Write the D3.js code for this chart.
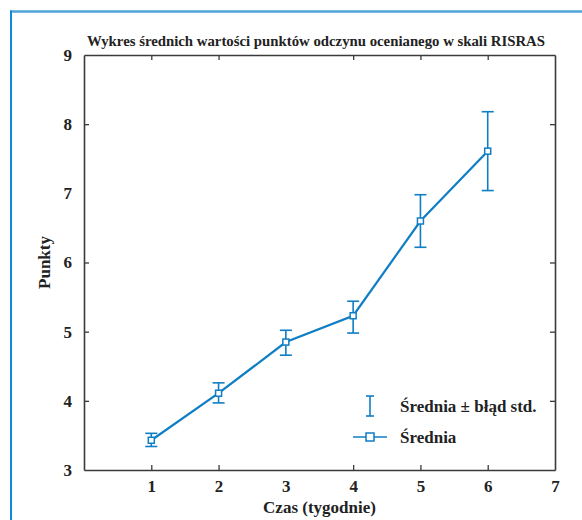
<!DOCTYPE html>
<html>
<head>
<meta charset="utf-8">
<script src="https://cdn.jsdelivr.net/npm/d3@7"></script>
<style>
  body { margin: 0; background: #fff; }
</style>
</head>
<body>
<div id="chart"></div>
<script>
// Data
const weeks = [1, 2, 3, 4, 5, 6];
const means = [3.43, 4.11, 4.85, 5.23, 6.60, 7.61];
const lowerBounds = [3.34, 3.97, 4.66, 4.98, 6.22, 7.04];
const upperBounds = [3.53, 4.26, 5.02, 5.44, 6.98, 8.18];
const xTicks = [1, 2, 3, 4, 5, 6, 7];
const yTicks = [3, 4, 5, 6, 7, 8, 9];
const legendLabels = ['Średnia ± błąd std.', 'Średnia'];

const chartTitle = 'Wykres średnich wartości punktów odczynu ocenianego w skali RISRAS';
const xLabel = 'Czas (tygodnie)';
const yLabel = 'Punkty';

const serif = 'Liberation Serif';

const imageWidth = 582;
const imageHeight = 520;
const margin = {
  top: 55, right: 27, bottom: 50, left: 84,
};
const width = imageWidth - margin.left - margin.right;
const height = imageHeight - margin.top - margin.bottom;
const blue = '#0f7ec4';
const axisColor = '#3a3a3a';

const x = d3.scaleLinear().domain([0, 7]).range([0, width]);
const y = d3.scaleLinear().domain([3, 9]).range([height, 0]);

const root = d3.select('#chart').append('svg')
  .attr('width', imageWidth)
  .attr('height', imageHeight);

// Outer frame lines (top and left)
root.append('line')
  .attr('x1', 10).attr('x2', imageWidth).attr('y1', 11.5).attr('y2', 11.5)
  .attr('stroke', '#4ea3da').attr('stroke-width', 2.5);
root.append('line')
  .attr('x1', 11).attr('x2', 11).attr('y1', 10.5).attr('y2', imageHeight)
  .attr('stroke', '#1089d6').attr('stroke-width', 2);

const svg = root.append('g')
  .attr('transform', `translate(${margin.left},${margin.top})`);

// Axes with inward ticks on all four sides
const tickLen = 5;
const fmt = d3.format('d');
const xAxisBottom = d3.axisBottom(x).tickValues(xTicks).tickFormat(fmt)
  .tickSizeInner(-tickLen).tickSizeOuter(0).tickPadding(10);
const xAxisTop = d3.axisTop(x).tickValues(xTicks).tickSizeInner(-tickLen).tickSizeOuter(0).tickFormat('');
const yAxisLeft = d3.axisLeft(y).tickValues(yTicks).tickFormat(fmt)
  .tickSizeInner(-tickLen).tickSizeOuter(0).tickPadding(10);
const yAxisRight = d3.axisRight(y).tickValues(yTicks).tickSizeInner(-tickLen).tickSizeOuter(0).tickFormat('');

const gx = svg.append('g').attr('transform', `translate(0,${height})`).call(xAxisBottom);
svg.append('g').call(xAxisTop);
const gy = svg.append('g').call(yAxisLeft);
svg.append('g').attr('transform', `translate(${width},0)`).call(yAxisRight);

svg.selectAll('.domain').attr('stroke', axisColor).attr('stroke-width', 1.6);
svg.selectAll('.tick line').attr('stroke', axisColor).attr('stroke-width', 1.3);
// hide ticks that sit on the box corners
svg.selectAll('.tick').filter((d) => d === 3 || d === 9 || d === 7).select('line').remove();

[gx, gy].forEach((g) => {
  g.attr('font-family', serif).attr('font-size', 17).attr('font-weight', 'bold');
  g.selectAll('text')
    .attr('font-family', serif)
    .attr('font-size', 17)
    .attr('font-weight', 'bold')
    .attr('fill', '#222');
});
gy.selectAll('text').attr('dx', '-2');

// Title and axis labels
root.append('text')
  .attr('x', 316).attr('y', 46)
  .attr('text-anchor', 'middle')
  .attr('font-family', serif)
  .attr('font-size', 15).attr('font-weight', 'bold')
  .attr('fill', '#222')
  .attr('textLength', 458).attr('lengthAdjust', 'spacingAndGlyphs')
  .text(chartTitle);

root.append('text')
  .attr('x', margin.left + width / 2).attr('y', 513)
  .attr('text-anchor', 'middle')
  .attr('font-family', serif)
  .attr('font-size', 17).attr('font-weight', 'bold')
  .attr('fill', '#222')
  .text(xLabel);

root.append('text')
  .attr('transform', `translate(50,${margin.top + height / 2}) rotate(-90)`)
  .attr('text-anchor', 'middle')
  .attr('font-family', serif)
  .attr('font-size', 17).attr('font-weight', 'bold')
  .attr('fill', '#222')
  .text(yLabel);

const points = weeks.map((w, i) => ({
  w, m: means[i], lo: lowerBounds[i], hi: upperBounds[i],
}));

// Error bars
const capHalf = 6;
const err = svg.selectAll('.err')
  .data(points)
  .enter().append('g')
  .attr('class', 'err')
  .attr('stroke', blue)
  .attr('stroke-width', 1.6);
err.append('line')
  .attr('x1', (d) => x(d.w)).attr('x2', (d) => x(d.w))
  .attr('y1', (d) => y(d.lo)).attr('y2', (d) => y(d.hi));
err.append('line')
  .attr('x1', (d) => x(d.w) - capHalf).attr('x2', (d) => x(d.w) + capHalf)
  .attr('y1', (d) => y(d.hi)).attr('y2', (d) => y(d.hi));
err.append('line')
  .attr('x1', (d) => x(d.w) - capHalf).attr('x2', (d) => x(d.w) + capHalf)
  .attr('y1', (d) => y(d.lo)).attr('y2', (d) => y(d.lo));

// Mean line
const line = d3.line().x((d) => x(d.w)).y((d) => y(d.m));
svg.append('path')
  .datum(points)
  .attr('d', line)
  .attr('fill', 'none')
  .attr('stroke', blue)
  .attr('stroke-width', 2.2);

// Square markers
const sq = 6;
svg.selectAll('.marker')
  .data(points)
  .enter().append('rect')
  .attr('class', 'marker')
  .attr('x', (d) => x(d.w) - sq / 2)
  .attr('y', (d) => y(d.m) - sq / 2)
  .attr('width', sq).attr('height', sq)
  .attr('fill', '#fff')
  .attr('stroke', blue)
  .attr('stroke-width', 1.5);

// Legend
const legend = root.append('g').attr('transform', 'translate(370,0)');
legend.append('line').attr('x1', 0).attr('x2', 0).attr('y1', 396).attr('y2', 416)
  .attr('stroke', blue).attr('stroke-width', 1.6);
legend.append('line').attr('x1', -4).attr('x2', 4).attr('y1', 396).attr('y2', 396)
  .attr('stroke', blue).attr('stroke-width', 1.6);
legend.append('line').attr('x1', -4).attr('x2', 4).attr('y1', 416).attr('y2', 416)
  .attr('stroke', blue).attr('stroke-width', 1.6);
legend.append('line').attr('x1', -17).attr('x2', 17).attr('y1', 437).attr('y2', 437)
  .attr('stroke', blue).attr('stroke-width', 1.6);
legend.append('rect').attr('x', -4).attr('y', 433).attr('width', 8).attr('height', 8)
  .attr('fill', '#fff').attr('stroke', blue).attr('stroke-width', 1.5);

legend.selectAll('.ltext')
  .data(legendLabels)
  .enter().append('text')
  .attr('class', 'ltext')
  .attr('x', 30)
  .attr('y', (d, i) => 412 + i * 31)
  .attr('font-family', serif)
  .attr('font-size', 17).attr('font-weight', 'bold')
  .attr('fill', '#222')
  .text((d) => d);
</script>
</body>
</html>
